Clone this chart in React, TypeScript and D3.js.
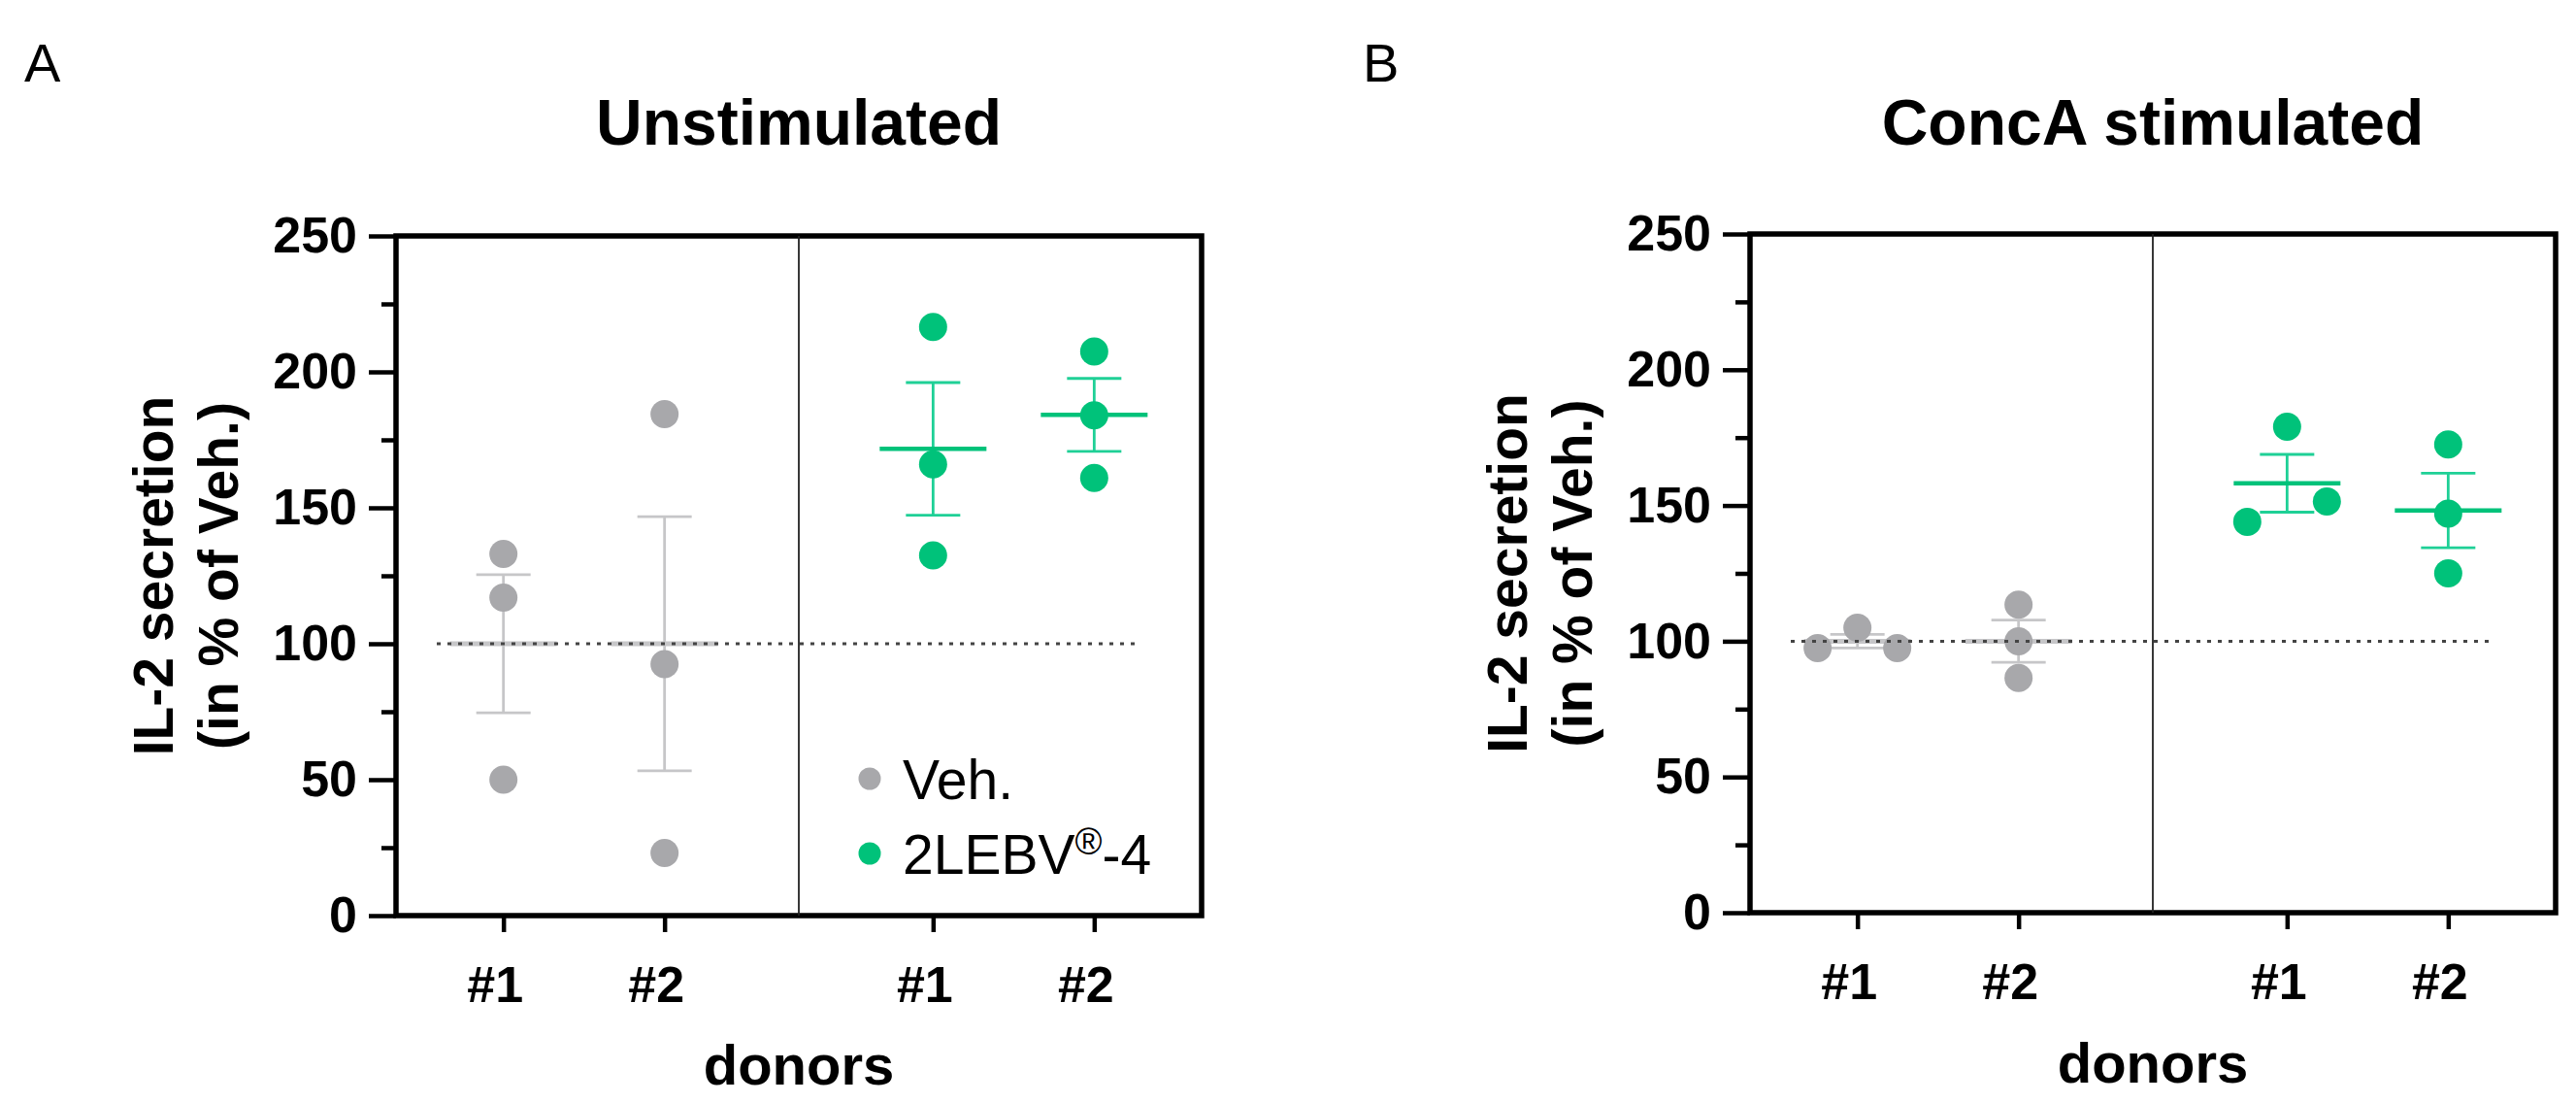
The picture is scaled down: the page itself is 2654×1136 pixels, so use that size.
import { useEffect, useRef } from "react";
import { select, scaleLinear, axisLeft, axisBottom, mean, deviation } from "d3";

// replicate values (% of vehicle), per donor
const donors = ["#1", "#2"];
const treatments = ["Veh.", "2LEBV®-4"];
const yTicks = [0, 50, 100, 150, 200, 250];
const yMinorTicks = [25, 75, 125, 175, 225];

const unstimVeh = [
  [133, 117, 50],
  [184.5, 92.5, 23],
];
const unstimDrug = [
  [216.5, 166, 132.5],
  [207.5, 184, 161],
];
const concaVeh = [
  [97.5, 105, 97.5],
  [113.5, 100, 86.5],
];
const concaDrug = [
  [144, 179, 151.5],
  [172.5, 147, 125],
];

const GREY_DOT = "#a8a8ab";
const GREY_BAR = "#c6c6c8";
const GREEN_DOT = "#00c27a";
const GREEN_BAR = "#1fd096";
const FONT = "'Liberation Sans', Arial, Helvetica, sans-serif";

const W = 830;
const R = 14.5;

// spread points that overlap vertically (graphpad-like scatter)
function jitter(vals: number[], y: any) {
  const n = vals.length;
  const cluster = vals.map((_, i) => i);
  const find = (i: number): number => (cluster[i] === i ? i : find(cluster[i]));
  for (let i = 0; i < n; i++)
    for (let j = i + 1; j < n; j++)
      if (Math.abs(y(vals[i]) - y(vals[j])) < 2 * R) cluster[find(j)] = find(i);
  const offs = new Array(n).fill(0);
  const groups: Record<number, number[]> = {};
  vals.forEach((_, i) => {
    const r = find(i);
    (groups[r] = groups[r] || []).push(i);
  });
  Object.values(groups).forEach((idx) => {
    const k = idx.length;
    if (k < 2) return;
    const steps =
      k % 2 === 1
        ? idx.map((_, m) => m - (k - 1) / 2)
        : idx.map((_, m) => (m < k / 2 ? m - k / 2 : m - k / 2 + 1));
    idx.forEach((i, m) => (offs[i] = steps[m]));
  });
  return offs;
}

interface PanelProps {
  letter: string;
  letterX: number;
  title: string;
  veh: number[][];
  drug: number[][];
  left: number;
  top: number;
  height: number;
  legend?: boolean;
}

const Panel: React.FC<PanelProps> = ({ letter, letterX, title, veh, drug, left, top, height, legend }) => {
  const ref = useRef<SVGGElement>(null);

  useEffect(() => {
    const g = select(ref.current);
    g.selectAll("*").remove();

    const x: any = scaleLinear().domain([0, 5]).range([0, W]);
    const y: any = scaleLinear().domain([0, 250]).range([height, 0]);
    const slot = (t: number, d: number) => 2 / 3 + d + t * (8 / 3);

    // panel letter and title
    g.append("text")
      .attr("x", letterX - left)
      .attr("y", 84 - top)
      .attr("font-family", FONT)
      .attr("font-size", 56)
      .text(letter);
    g.append("text")
      .attr("x", W / 2)
      .attr("y", 149 - top)
      .attr("text-anchor", "middle")
      .attr("font-family", FONT)
      .attr("font-weight", "bold")
      .attr("font-size", 66)
      .text(title);

    // y axis
    const yAxis: any = axisLeft(y).tickValues(yTicks).tickSize(28).tickPadding(12);
    const ya = g.append("g").call(yAxis);
    ya.select(".domain").remove();
    ya.selectAll("line").attr("stroke-width", 4.5);
    ya.selectAll("text")
      .attr("font-family", FONT)
      .attr("font-weight", "bold")
      .attr("font-size", 52)
      .attr("fill", "#000");
    const yMinor: any = axisLeft(y).tickValues(yMinorTicks).tickSize(15).tickFormat(() => "");
    const ym = g.append("g").call(yMinor);
    ym.select(".domain").remove();
    ym.selectAll("line").attr("stroke-width", 4.5);

    // x axis
    const xPos = [0, 1].flatMap((t) => donors.map((_, d) => slot(t, d)));
    const xLabels = [...donors, ...donors];
    const xAxis: any = axisBottom(x)
      .tickValues(xPos)
      .tickSize(17)
      .tickPadding(35)
      .tickFormat((_: any, i: number) => xLabels[i]);
    const xa = g.append("g").attr("transform", `translate(0,${height})`).call(xAxis);
    xa.select(".domain").remove();
    xa.selectAll("line").attr("stroke-width", 4.5);
    xa.selectAll("text")
      .attr("dx", -9)
      .attr("font-family", FONT)
      .attr("font-weight", "bold")
      .attr("font-size", 52)
      .attr("fill", "#000");

    // frame and separator
    g.append("rect")
      .attr("width", W)
      .attr("height", height)
      .attr("fill", "none")
      .attr("stroke", "#000")
      .attr("stroke-width", 5.5);
    g.append("line")
      .attr("x1", x(2.5))
      .attr("x2", x(2.5))
      .attr("y1", 0)
      .attr("y2", height)
      .attr("stroke", "#222")
      .attr("stroke-width", 1.8);

    // axis titles
    const yl = g
      .append("text")
      .attr("transform", `translate(0,${height / 2}) rotate(-90)`)
      .attr("text-anchor", "middle")
      .attr("font-family", FONT)
      .attr("font-weight", "bold")
      .attr("font-size", 57);
    yl.append("tspan").attr("x", 0).attr("y", -230).text("IL-2 secretion");
    yl.append("tspan").attr("x", 0).attr("y", -163).text("(in % of Veh.)");
    g.append("text")
      .attr("x", W / 2)
      .attr("y", 874)
      .attr("text-anchor", "middle")
      .attr("font-family", FONT)
      .attr("font-weight", "bold")
      .attr("font-size", 58)
      .text("donors");

    // scatter + mean ± SEM
    const sets = [
      { data: veh, t: 0, dot: GREY_DOT, bar: GREY_BAR, meanW: 5 },
      { data: drug, t: 1, dot: GREEN_DOT, bar: GREEN_BAR, meanW: 4.5 },
    ];
    sets.forEach(({ data, t, dot, bar, meanW }) => {
      data.forEach((vals, d) => {
        const cx = x(slot(t, d));
        const m = mean(vals) as number;
        const sem = (deviation(vals) as number) / Math.sqrt(vals.length);
        const eg = g.append("g");
        eg.append("line")
          .attr("x1", cx).attr("x2", cx)
          .attr("y1", y(m - sem)).attr("y2", y(m + sem))
          .attr("stroke", bar).attr("stroke-width", 2.8);
        [m - sem, m + sem].forEach((v) =>
          eg.append("line")
            .attr("x1", cx - 28).attr("x2", cx + 28)
            .attr("y1", y(v)).attr("y2", y(v))
            .attr("stroke", bar).attr("stroke-width", 2.8)
        );
        eg.append("line")
          .attr("x1", cx - 55).attr("x2", cx + 55)
          .attr("y1", y(m)).attr("y2", y(m))
          .attr("stroke", t === 0 ? GREY_BAR : dot).attr("stroke-width", meanW);
        const offs = jitter(vals, y);
        g.append("g")
          .selectAll("circle")
          .data(vals)
          .join("circle")
          .attr("cx", (_, i) => cx + offs[i] * 41)
          .attr("cy", (v) => y(v))
          .attr("r", R)
          .attr("fill", dot);
      });
    });

    // reference line at 100 %
    g.append("line")
      .attr("x1", 42)
      .attr("x2", 762)
      .attr("y1", y(100))
      .attr("y2", y(100))
      .attr("stroke", "#444")
      .attr("stroke-width", 3)
      .attr("stroke-dasharray", "4 7");

    if (legend) {
      const colors = [GREY_DOT, GREEN_DOT];
      const rows = [559, 636];
      treatments.forEach((name, i) => {
        g.append("circle").attr("cx", 488).attr("cy", rows[i]).attr("r", 11.5).attr("fill", colors[i]);
        const tx = g
          .append("text")
          .attr("x", 522)
          .attr("y", rows[i] + 21)
          .attr("font-family", FONT)
          .attr("font-size", 57);
        if (name.includes("®")) {
          const [a, b] = name.split("®");
          tx.append("tspan").text(a);
          tx.append("tspan").attr("dy", -20).attr("font-size", 38).text("®");
          tx.append("tspan").attr("dy", 20).text(b);
        } else {
          tx.text(name);
        }
      });
    }
  }, [letter, letterX, title, veh, drug, left, top, height, legend]);

  return <g ref={ref} transform={`translate(${left},${top})`} />;
};

const App: React.FC = () => {
  useEffect(() => {
    document.body.style.margin = "0";
  }, []);

  return (
    <svg width={2654} height={1136} style={{ display: "block", background: "#fff" }}>
      <Panel
        letter="A"
        letterX={25}
        title="Unstimulated"
        veh={unstimVeh}
        drug={unstimDrug}
        left={408}
        top={243}
        height={700}
        legend
      />
      <Panel
        letter="B"
        letterX={1404}
        title="ConcA stimulated"
        veh={concaVeh}
        drug={concaDrug}
        left={1803}
        top={241}
        height={699}
      />
    </svg>
  );
};

export default App;
